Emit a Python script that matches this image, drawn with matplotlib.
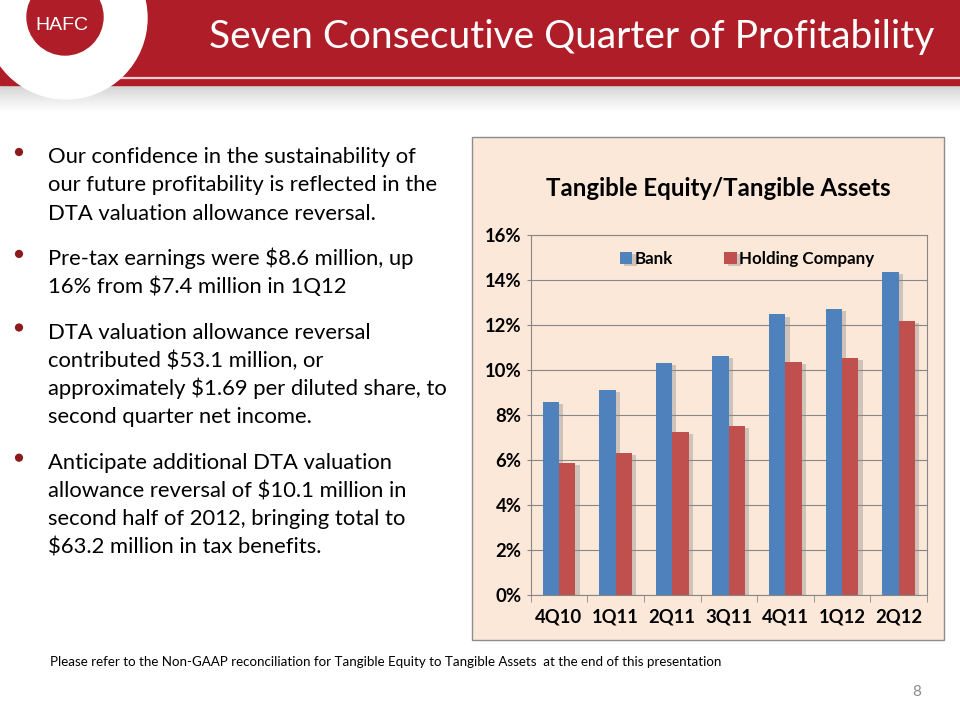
import matplotlib.pyplot as plt
import matplotlib.patheffects as pe
import numpy as np
from matplotlib.patches import Circle, Rectangle

quarters = ["4Q10", "1Q11", "2Q11", "3Q11", "4Q11", "1Q12", "2Q12"]
bank = [8.56, 9.11, 10.30, 10.62, 12.47, 12.71, 14.34]
holding_company = [5.87, 6.31, 7.24, 7.50, 10.34, 10.53, 12.16]
series_names = ["Bank", "Holding Company"]
y_ticks = [0, 2, 4, 6, 8, 10, 12, 14, 16]

slide_title = "Seven Consecutive Quarter of Profitability"
chart_title = "Tangible Equity/Tangible Assets"
bullets = [
    ["Our confidence in the sustainability of",
     "our future profitability is reflected in the",
     "DTA valuation allowance reversal."],
    ["Pre-tax earnings were $8.6 million, up",
     "16% from $7.4 million in 1Q12"],
    ["DTA valuation allowance reversal",
     "contributed $53.1 million, or",
     "approximately $1.69 per diluted share, to",
     "second quarter net income."],
    ["Anticipate additional DTA valuation",
     "allowance reversal of $10.1 million in",
     "second half of 2012, bringing total to",
     "$63.2 million in tax benefits."],
]
footnote = ("Please refer to the Non-GAAP reconciliation for Tangible Equity "
            "to Tangible Assets  at the end of this presentation")

RED = "#AF1E28"
BLUE = "#4F81BD"
BRICK = "#C0504D"
PANEL = "#FCE8D9"
BODY_FONT = "Lato"

fig = plt.figure(figsize=(9.6, 7.2), dpi=100)

# slide background drawn in pixel coordinates
bg = fig.add_axes([0, 0, 1, 1])
bg.set_xlim(0, 960)
bg.set_ylim(720, 0)
bg.axis("off")

shade = np.linspace(0.72, 1.0, 64).reshape(-1, 1) ** 0.6
bg.imshow(shade, cmap="gray", vmin=0, vmax=1, extent=(0, 960, 112, 84),
          aspect="auto", zorder=1)
bg.add_patch(Rectangle((0, 0), 960, 85, color=RED, zorder=2))
bg.plot([120, 960], [78, 78], color="#F4D0D2", lw=1.6, zorder=3)
bg.add_patch(Circle((66, 18), 81, color="white", zorder=4))
bg.add_patch(Circle((65, 17), 38, color=RED, zorder=5))
bg.text(62, 26, "HAFC", color="white", fontsize=14, family="Liberation Sans",
        ha="center", va="center", zorder=6)
bg.text(934, 48, slide_title, color="white", fontsize=28, family=BODY_FONT,
        ha="right", va="baseline", zorder=6)

line_y = 163
for group in bullets:
    bg.add_patch(Circle((19, line_y - 11), 3.4, color="#8B1A1A", zorder=3))
    for line in group:
        bg.text(48, line_y, line, fontsize=15.8, family=BODY_FONT,
                color="black", va="baseline", zorder=3)
        line_y += 28.3
    line_y += 17

bg.text(50, 662, footnote, fontsize=9.6, family=BODY_FONT, va="center",
        color="black", zorder=3)
bg.text(917, 692, "8", fontsize=11, family=BODY_FONT, va="center",
        ha="center", color="#8C8C8C", zorder=3)

bg.add_patch(Rectangle((472, 137), 472, 503, facecolor=PANEL,
                       edgecolor="#8C8C8C", lw=1.0, zorder=2))
bg.text(718, 196, chart_title, fontsize=17.3, family=BODY_FONT,
        fontweight="bold", ha="center", va="baseline", zorder=3)

# chart
ax = fig.add_axes([530.7 / 960, (720 - 595) / 720, (927 - 530.7) / 960, 360 / 720])
ax.set_facecolor(PANEL)
x = np.arange(len(quarters))
width = 0.29
shadow = [pe.SimplePatchShadow(offset=(3, -1.5), shadow_rgbFace="#8A8A8A", alpha=0.4),
          pe.Normal()]
ax.bar(x - width / 2, bank, width, color=BLUE, label=series_names[0],
       path_effects=shadow, zorder=3)
ax.bar(x + width / 2, holding_company, width, color=BRICK, label=series_names[1],
       path_effects=shadow, zorder=3)

ax.set_xlim(-0.5, len(quarters) - 0.5)
ax.set_ylim(0, 16)
ax.set_yticks(y_ticks, [f"{v}%" for v in y_ticks])
ax.set_xticks(x, quarters)
ax.set_xticks(np.arange(len(quarters) + 1) - 0.5, minor=True)
ax.tick_params(axis="x", which="major", length=0, pad=10)
ax.tick_params(axis="x", which="minor", length=5, color="#878787")
ax.tick_params(axis="y", length=3, color="#878787", pad=3.5)
for label in ax.get_xticklabels() + ax.get_yticklabels():
    label.set_fontweight("bold")
    label.set_fontsize(13.3)
    label.set_family(BODY_FONT)
ax.grid(axis="y", color="#878787", lw=0.8, zorder=0)
for spine in ax.spines.values():
    spine.set_color("#878787")
    spine.set_linewidth(0.8)

ax.legend(loc="center", bbox_to_anchor=(0.546, 0.933), ncol=2, frameon=False,
          handlelength=0.75, handleheight=0.75, handletextpad=0.15,
          columnspacing=3.0, borderaxespad=0, borderpad=0,
          prop={"family": BODY_FONT, "weight": "bold", "size": 12.2})

fig.savefig("out.png", dpi=100)
